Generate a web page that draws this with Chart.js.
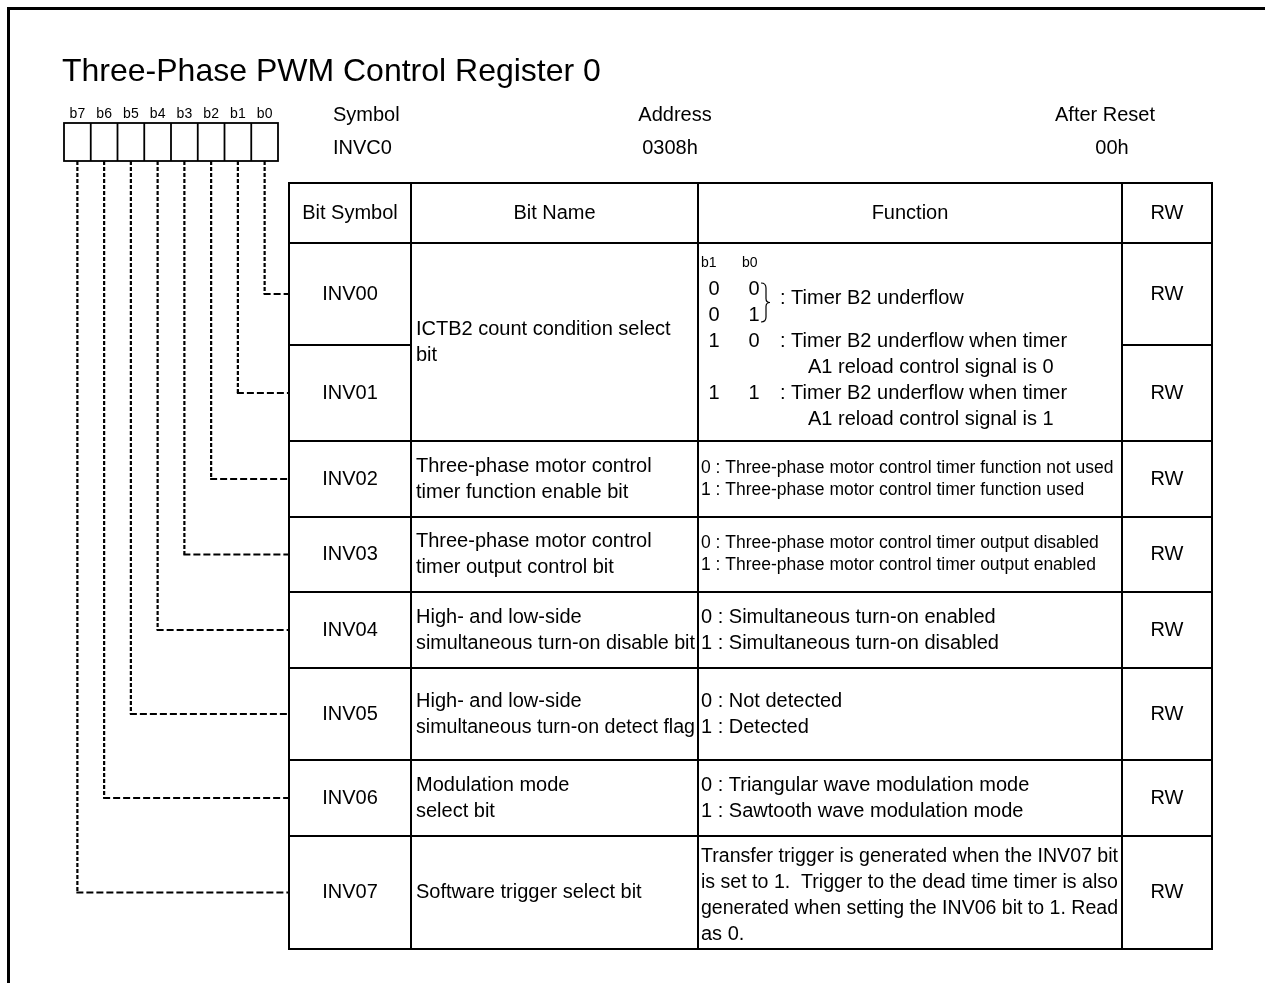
<!DOCTYPE html>
<html><head><meta charset="utf-8">
<script src="https://cdn.jsdelivr.net/npm/chart.js@4.4.1/dist/chart.umd.min.js"></script>
<style>html,body{margin:0;padding:0;background:#fff;} #wrap{width:1265px;height:983px;position:relative;}</style>
</head><body><div id="wrap"><canvas id="c" width="1265" height="983"></canvas></div>
<script>
// ---------- content ----------
const titleText = 'Three-Phase PWM Control Register 0';
const bitLabels = ['b7','b6','b5','b4','b3','b2','b1','b0'];
const registerFields = ['Symbol','Address','After Reset'];
const registerValues = ['INVC0','0308h','00h'];
const columnHeaders = ['Bit Symbol','Bit Name','Function','RW'];
const bitSymbols = ['INV00','INV01','INV02','INV03','INV04','INV05','INV06','INV07'];
const bitNames = [
  ['ICTB2 count condition select','bit'], null,
  ['Three-phase motor control','timer function enable bit'],
  ['Three-phase motor control','timer output control bit'],
  ['High- and low-side','simultaneous turn-on disable bit'],
  ['High- and low-side','simultaneous turn-on detect flag'],
  ['Modulation mode','select bit'],
  ['Software trigger select bit']
];
const bitFunctions = [null, null,
  ['0 : Three-phase motor control timer function not used','1 : Three-phase motor control timer function used'],
  ['0 : Three-phase motor control timer output disabled','1 : Three-phase motor control timer output enabled'],
  ['0 : Simultaneous turn-on enabled','1 : Simultaneous turn-on disabled'],
  ['0 : Not detected','1 : Detected'],
  ['0 : Triangular wave modulation mode','1 : Sawtooth wave modulation mode'],
  ['Transfer trigger is generated when the INV07 bit','is set to 1.  Trigger to the dead time timer is also','generated when setting the INV06 bit to 1. Read','as 0.']
];
const smallFunctionRows = [2,3];
const rwValues = ['RW','RW','RW','RW','RW','RW','RW','RW'];
const selectHeader = ['b1','b0'];
const selectCodes = [['0','0'],['0','1'],['1','0'],['1','1']];
const selectLines = [
  {line:1.5, indent:0, text:': Timer B2 underflow'},
  {line:3, indent:0, text:': Timer B2 underflow when timer'},
  {line:4, indent:1, text:'A1 reload control signal is 0'},
  {line:5, indent:0, text:': Timer B2 underflow when timer'},
  {line:6, indent:1, text:'A1 reload control signal is 1'}
];

// ---------- layout ----------
const W = 1265, H = 983;
const FONT = '"Liberation Sans", Arial, sans-serif';
const L = {
  frame: 8.5,
  title: {x:62, y:72, size:32},
  box: {x0:64, x1:278, y0:123, y1:161},
  bitLabelY: 114,
  regX: [333, 675, 1105], regAlign: ['left','center','center'],
  regValX: [333, 670, 1112], regY0: 115, regY1: 148,
  cols: [289, 411, 698, 1122, 1212],
  rows: [183, 243, 345, 441, 517, 592, 668, 760, 836, 949],
  main: 20, small: 17.5, bitSize: 14, selHdr: 14
};
const boxW = (L.box.x1 - L.box.x0) / bitLabels.length;
const boxCenter = k => L.box.x0 + boxW * (k + 0.5);
const rowTop = i => L.rows[i + 1];
const rowBot = i => L.rows[i + 2];
const rowMid = i => (rowTop(i) + rowBot(i)) / 2;

// leader line datasets, one vertical + one horizontal per bit
const datasets = [];
bitLabels.forEach((lab, k) => {
  const bit = bitLabels.length - 1 - k;
  const cx = boxCenter(k), cy = rowMid(bit);
  datasets.push({label: lab + ' v', data: [{x: cx, y: L.box.y1}, {x: cx, y: cy}],
    showLine: true, borderColor: '#000', borderWidth: 2.2, borderDash: [4, 2], pointRadius: 0, fill: false});
  datasets.push({label: lab + ' h', data: [{x: cx - 1, y: cy}, {x: L.cols[0], y: cy}],
    showLine: true, borderColor: '#000', borderWidth: 2.2, borderDash: [7, 3], pointRadius: 0, fill: false});
});

const diagram = {
  id: 'diagram',
  afterDatasetsDraw(chart) {
    const ctx = chart.ctx, xs = chart.scales.x, ys = chart.scales.y;
    const X = v => xs.getPixelForValue(v), Y = v => ys.getPixelForValue(v);
    const txt = (s, x, y, size, align, maxW) => {
      ctx.font = size + 'px ' + FONT; ctx.textAlign = align || 'left'; ctx.textBaseline = 'middle'; ctx.fillStyle = '#000';
      if (maxW) ctx.fillText(s, X(x), Y(y), maxW); else ctx.fillText(s, X(x), Y(y));
    };
    const line = (x0, y0, x1, y1, w) => {
      ctx.beginPath(); ctx.lineWidth = w; ctx.strokeStyle = '#000';
      ctx.moveTo(X(x0), Y(y0)); ctx.lineTo(X(x1), Y(y1)); ctx.stroke();
    };
    ctx.save();
    // outer frame
    ctx.lineCap = 'square';
    line(L.frame, L.frame, W + 5, L.frame, 3);
    line(L.frame, L.frame, L.frame, H + 5, 3);
    ctx.lineCap = 'butt';
    // title
    txt(titleText, L.title.x, L.title.y, L.title.size, 'left');
    // bit boxes
    bitLabels.forEach((lab, k) => {
      txt(lab, boxCenter(k), L.bitLabelY, L.bitSize, 'center');
    });
    ctx.lineWidth = 1.8; ctx.strokeStyle = '#000';
    ctx.strokeRect(X(L.box.x0), Y(L.box.y0), X(L.box.x1) - X(L.box.x0), Y(L.box.y1) - Y(L.box.y0));
    for (let k = 1; k < bitLabels.length; k++) line(L.box.x0 + boxW * k, L.box.y0, L.box.x0 + boxW * k, L.box.y1, 1.8);
    // register info
    registerFields.forEach((f, i) => txt(f, L.regX[i], L.regY0, L.main, L.regAlign[i]));
    registerValues.forEach((v, i) => txt(v, L.regValX[i], L.regY1, L.main, L.regAlign[i]));
    // table grid
    const c = L.cols, r = L.rows;
    ctx.lineWidth = 2;
    ctx.strokeRect(X(c[0]), Y(r[0]), X(c[4]) - X(c[0]), Y(r[r.length - 1]) - Y(r[0]));
    for (let j = 1; j < 4; j++) line(c[j], r[0], c[j], r[r.length - 1], 2);
    for (let i = 1; i < r.length - 1; i++) {
      if (i === 2) { line(c[0], r[i], c[1], r[i], 2); line(c[3], r[i], c[4], r[i], 2); }
      else line(c[0], r[i], c[4], r[i], 2);
    }
    // headers
    columnHeaders.forEach((h, j) => txt(h, (c[j] + c[j + 1]) / 2, (r[0] + r[1]) / 2, L.main, 'center'));
    // rows
    bitSymbols.forEach((s, i) => {
      const m = rowMid(i);
      txt(s, (c[0] + c[1]) / 2, m, L.main, 'center');
      txt(rwValues[i], (c[3] + c[4]) / 2, m, L.main, 'center');
      const nm = bitNames[i];
      if (nm) {
        const mid = i === 0 ? (rowTop(0) + rowBot(1)) / 2 : m;
        nm.forEach((t, n) => txt(t, c[1] + 5, mid + (n - (nm.length - 1) / 2) * 26, L.main, 'left', c[2] - c[1] - 8));
      }
      const fn = bitFunctions[i];
      if (fn) {
        const small = smallFunctionRows.includes(i);
        const lh = small ? 22 : 26, sz = small ? L.small : L.main;
        const off = fn.length > 2 ? 3 : 0;
        fn.forEach((t, n) => txt(t, c[2] + 3, m + off + (n - (fn.length - 1) / 2) * lh, sz, 'left', c[3] - c[2] - 7));
      }
    });
    // merged INV00/INV01 function cell
    const top = rowTop(0);
    const ly = n => top + 20 + n * 26;
    txt(selectHeader[0], c[2] + 3, top + 20, L.selHdr, 'left');
    txt(selectHeader[1], c[2] + 44, top + 20, L.selHdr, 'left');
    selectCodes.forEach((code, n) => {
      const li = n < 2 ? n + 1 : (n === 2 ? 3 : 5);
      txt(code[0], c[2] + 16, ly(li), L.main, 'center');
      txt(code[1], c[2] + 56, ly(li), L.main, 'center');
    });
    selectLines.forEach(s => txt(s.text, c[2] + 82 + s.indent * 28, ly(s.line) - (s.line % 1 ? 4 : 0), L.main, 'left', c[3] - c[2] - 86 - s.indent * 28));
    // brace
    const bx = c[2] + 68, by0 = ly(1) - 6, by1 = ly(2) + 7, bm = (by0 + by1) / 2;
    ctx.beginPath(); ctx.lineWidth = 1.2;
    ctx.moveTo(X(bx - 5), Y(by0));
    ctx.quadraticCurveTo(X(bx), Y(by0), X(bx), Y(by0 + 5));
    ctx.lineTo(X(bx), Y(bm - 4));
    ctx.quadraticCurveTo(X(bx), Y(bm), X(bx + 4), Y(bm));
    ctx.quadraticCurveTo(X(bx), Y(bm), X(bx), Y(bm + 4));
    ctx.lineTo(X(bx), Y(by1 - 5));
    ctx.quadraticCurveTo(X(bx), Y(by1), X(bx - 5), Y(by1));
    ctx.stroke();
    ctx.restore();
  }
};

new Chart(document.getElementById('c'), {
  type: 'scatter',
  data: {datasets},
  options: {
    responsive: false, animation: false, devicePixelRatio: 1,
    layout: {padding: 0},
    plugins: {legend: {display: false}, tooltip: {enabled: false}},
    scales: {
      x: {type: 'linear', min: 0, max: W, display: false},
      y: {type: 'linear', min: 0, max: H, reverse: true, display: false}
    },
    elements: {point: {radius: 0}, line: {tension: 0}}
  },
  plugins: [diagram]
});
</script></body></html>
